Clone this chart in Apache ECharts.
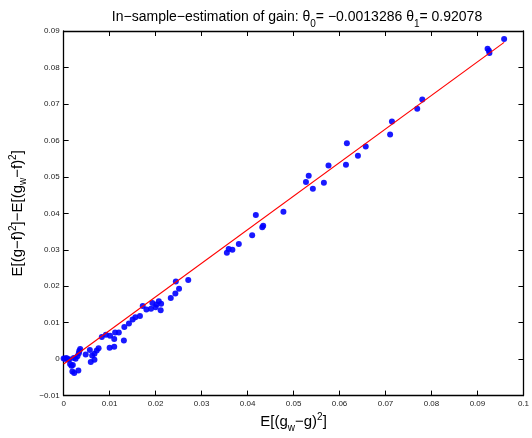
<!DOCTYPE html>
<html>
<head>
<meta charset="utf-8">
<script src="https://cdn.jsdelivr.net/npm/echarts@6/dist/echarts.min.js"></script>
<style>html,body{margin:0;padding:0;background:#fff;}#c{width:532px;height:438px;}</style>
</head>
<body>
<div id="c"></div>
<script>
// E[(g_w - g)^2] values
var xVals = [0.0000,0.0003,0.0006,0.0009,0.0012,0.0014,0.0017,0.0020,0.0019,0.0023,0.0032,0.0022,0.0026,0.0030,0.0033,0.0034,0.0036,0.0048,0.0057,0.0059,0.0067,0.0062,0.0067,0.0072,0.0076,0.0083,0.0092,0.0101,0.0100,0.0110,0.0110,0.0112,0.0120,0.0131,0.0132,0.0142,0.0150,0.0156,0.0166,0.0172,0.0180,0.0190,0.0193,0.0200,0.0202,0.0207,0.0211,0.0212,0.0233,0.0243,0.0244,0.0251,0.0271,0.0355,0.0359,0.0367,0.0381,0.0410,0.0418,0.0432,0.0434,0.0478,0.0527,0.0533,0.0542,0.0566,0.0576,0.0614,0.0616,0.0640,0.0657,0.0710,0.0714,0.0769,0.0780,0.0922,0.0925,0.0926,0.0958];
// E[(g-f)^2] - E[(g_w-f)^2] values
var yVals = [0.0002,0.0001,0.0003,-0.0001,0.0000,-0.0013,-0.0018,-0.0016,-0.0034,-0.0038,-0.0031,0.0003,0.0001,0.0008,0.0016,0.0022,0.0028,0.0013,0.0025,-0.0008,-0.0002,0.0010,0.0015,0.0024,0.0030,0.0061,0.0067,0.0064,0.0031,0.0034,0.0055,0.0073,0.0073,0.0051,0.0088,0.0098,0.0109,0.0115,0.0118,0.0146,0.0136,0.0138,0.0154,0.0142,0.0150,0.0159,0.0134,0.0152,0.0168,0.0180,0.0213,0.0193,0.0217,0.0292,0.0302,0.0300,0.0316,0.0340,0.0395,0.0362,0.0366,0.0404,0.0486,0.0503,0.0467,0.0484,0.0531,0.0533,0.0592,0.0558,0.0583,0.0616,0.0652,0.0687,0.0712,0.0851,0.0846,0.0840,0.0878];
var theta0 = -0.0013286;
var theta1 = 0.92078;
var xTicks = [0,0.01,0.02,0.03,0.04,0.05,0.06,0.07,0.08,0.09,0.1];
var yTicks = [-0.01,0,0.01,0.02,0.03,0.04,0.05,0.06,0.07,0.08,0.09];

var pts = xVals.map(function(x,i){return [x,yVals[i]];});
var xmin = Math.min.apply(null,xVals), xmax = Math.max.apply(null,xVals);
var fitLine = [[xmin, theta0+theta1*xmin],[xmax, theta0+theta1*xmax]];

function fmt(v){
  var s = String(Math.round(v*1000)/1000);
  return s.replace('-', '\u2212');
}
var FONT = 'Liberation Sans';
var chart = echarts.init(document.getElementById('c'), null, {renderer:'canvas'});
var axisCommon = {
  axisLine:{show:true,onZero:false,lineStyle:{color:'#000',width:1.3}},
  axisTick:{show:true,inside:true,length:5,lineStyle:{color:'#000',width:1}},
  splitLine:{show:false}
};
chart.setOption({
  animation:false,
  backgroundColor:'#fff',
  title:{
    text:'In\u2212sample\u2212estimation of gain: \u03b8{sub|0}= \u22120.0013286 \u03b8{sub|1}= 0.92078',
    left:292, top:1, textAlign:'center',
    textStyle:{fontFamily:FONT,fontSize:14,fontWeight:'normal',color:'#000',
      rich:{sub:{fontFamily:FONT,fontSize:10,padding:[13,0,0,0],color:'#000'}}}
  },
  grid:{left:62, top:31, width:471, height:370, containLabel:false},
  xAxis:[
    Object.assign({type:'value',min:0,max:0.1,interval:0.01,position:'bottom',
      name:'E[(g{sub|w}\u2212g){sup|2}]', nameLocation:'middle', nameGap:7,
      nameTextStyle:{fontFamily:FONT,fontSize:15,color:'#000',
        rich:{sub:{fontFamily:FONT,fontSize:10,padding:[12,0,0,0],color:'#000'},
              sup:{fontFamily:FONT,fontSize:10,padding:[0,0,9,0],color:'#000'}}},
      axisLabel:{fontFamily:FONT,fontSize:8,color:'#222',margin:4,formatter:fmt,showMaxLabel:true}
    },axisCommon),
    Object.assign({type:'value',min:0,max:0.1,interval:0.01,position:'top',axisLabel:{show:false}},axisCommon)
  ],
  yAxis:[
    Object.assign({type:'value',min:-0.01,max:0.09,interval:0.01,position:'left',
      name:'E[(g\u2212f){sup|2}]\u2212E[(g{sub|w}\u2212f){sup|2}]', nameLocation:'middle', nameGap:28,
      nameTextStyle:{fontFamily:FONT,fontSize:15,color:'#000',
        rich:{sub:{fontFamily:FONT,fontSize:10,padding:[12,0,0,0],color:'#000'},
              sup:{fontFamily:FONT,fontSize:10,padding:[0,0,9,0],color:'#000'}}},
      axisLabel:{fontFamily:FONT,fontSize:8,color:'#222',margin:4,formatter:fmt}
    },axisCommon),
    Object.assign({type:'value',min:-0.01,max:0.09,interval:0.01,position:'right',axisLabel:{show:false}},axisCommon)
  ],
  series:[
    {type:'scatter',data:pts,xAxisIndex:0,yAxisIndex:0,symbol:'circle',symbolSize:6,
     itemStyle:{color:'#0000ff',opacity:0.9},z:3},
    {type:'line',data:fitLine,xAxisIndex:0,yAxisIndex:0,symbol:'none',
     lineStyle:{color:'#ff0000',width:1.2},z:4}
  ]
});
</script>
</body>
</html>
